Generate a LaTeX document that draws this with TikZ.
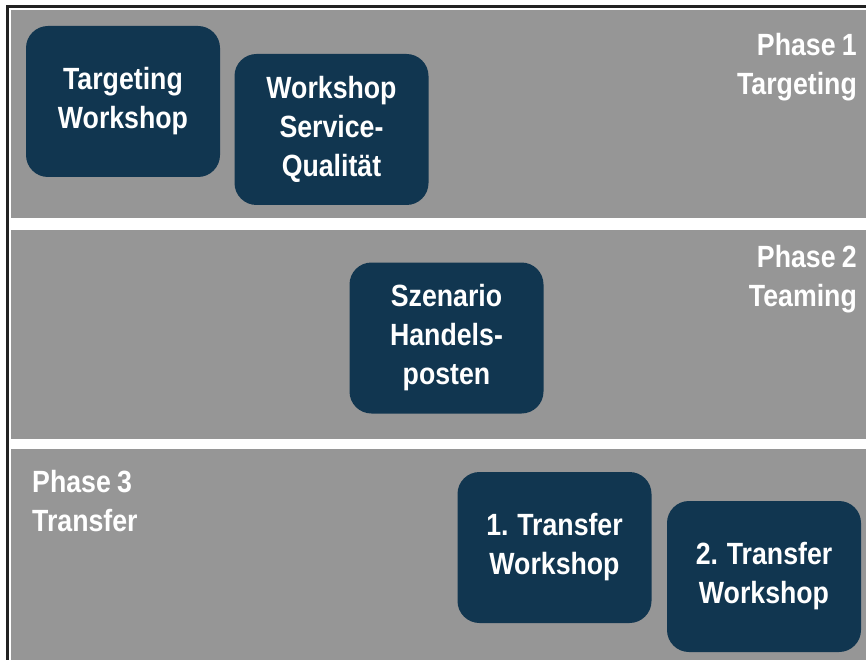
\documentclass[tikz,border=0pt]{standalone}
\usepackage{fontspec}
\setmainfont{Liberation Sans}[FakeStretch=0.87,WordSpace=0.85]
\definecolor{band}{RGB}{150,150,150}
\definecolor{navy}{RGB}{17,54,80}
\definecolor{frame}{RGB}{34,34,34}
\begin{document}
\begin{tikzpicture}[x=1pt,y=-1pt,
  phasebox/.style={fill=band,draw=none},
  stepbox/.style={fill=navy,draw=none,rounded corners=22pt,
    minimum width=194pt,minimum height=151pt,inner sep=0pt,
    text=white,align=center,font=\fontsize{30.7}{39}\selectfont\bfseries},
  phaselabel/.style={inner sep=0pt,text=white,
    font=\fontsize{30.7}{39.5}\selectfont\bfseries}]
\useasboundingbox (0,0) rectangle (866,660);
\fill[white] (0,0) rectangle (866,660);
% outer frame (left and top edges)
\draw[frame,line width=3pt] (7.5,662) -- (7.5,6.5) -- (868,6.5);
% phase bands
\fill[phasebox] (11,10) rectangle (866,218.5);
\fill[phasebox] (11,229.5) rectangle (866,438.5);
\fill[phasebox] (11,448.5) rectangle (866,662);
% phase titles
\node[phaselabel,align=right,anchor=north east] (p1) at (857,33) {Phase 1\\Targeting};
\node[phaselabel,align=right,anchor=north east] (p2) at (857,245) {Phase 2\\Teaming};
\node[phaselabel,align=left,anchor=north west] (p3) at (32,470) {Phase 3\\Transfer};
% workshop boxes
\node[stepbox] (tw) at (123,101.5) {Targeting\\Workshop};
\node[stepbox] (wsq) at (331.5,129.5) {Workshop\\Service-\\Qualität};
\node[stepbox] (sh) at (446.5,338) {Szenario\\Handels-\\posten};
\node[stepbox] (t1) at (554.5,547.5) {1. Transfer\\Workshop};
\node[stepbox] (t2) at (764,576.5) {2. Transfer\\Workshop};
\end{tikzpicture}
\end{document}
